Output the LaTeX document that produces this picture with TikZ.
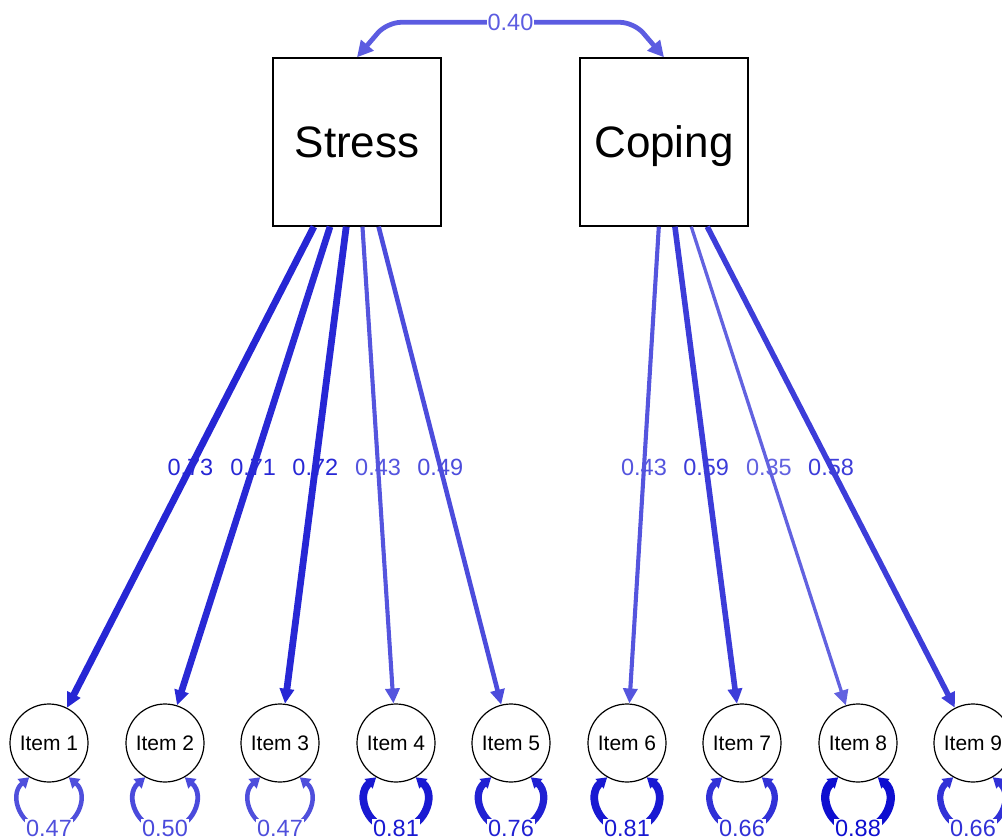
\documentclass[tikz,border=0pt]{standalone}
\usepackage{fontspec}
\setmainfont{Liberation Sans}
\usetikzlibrary{arrows.meta,calc}
% colours by weight
\definecolor{w73}{RGB}{38,38,212}
\definecolor{w71}{RGB}{41,41,213}
\definecolor{w72}{RGB}{39,39,213}
\definecolor{w43}{RGB}{85,85,222}
\definecolor{w49}{RGB}{76,76,220}
\definecolor{w59}{RGB}{60,60,217}
\definecolor{w35}{RGB}{98,98,224}
\definecolor{w58}{RGB}{61,61,217}
\definecolor{w40}{RGB}{92,92,225}
\definecolor{w47}{RGB}{79,79,220}
\definecolor{w50}{RGB}{74,74,220}
\definecolor{w81}{RGB}{25,25,210}
\definecolor{w76}{RGB}{33,33,211}
\definecolor{w88}{RGB}{14,14,208}
\definecolor{w66}{RGB}{49,49,215}
\tikzset{
  lat/.style={draw, line width=1.4pt, minimum width=168pt, minimum height=168pt,
    inner sep=0pt, text height=31.5pt, text depth=0pt, font=\fontsize{44}{44}\selectfont},
  man/.style={draw, circle, line width=1.2pt, minimum size=78pt, inner sep=0pt,
    font=\fontsize{21}{21}\selectfont},
  load/.style={-{Triangle[length=15pt,width=14pt]}},
  lab/.style={font=\fontsize{23.5}{23.5}\selectfont, inner sep=1pt},
  rlab/.style={font=\fontsize{23.5}{23.5}\selectfont, inner sep=1pt, fill=white},
  resid/.style={{Triangle[length=10pt,width=12pt]}-{Triangle[length=10pt,width=12pt]}},
  cov/.style={{Triangle[length=16pt,width=16pt]}-{Triangle[length=16pt,width=16pt]},
    rounded corners=14pt},
}
\begin{document}
\begin{tikzpicture}[x=1pt,y=-1pt]
\useasboundingbox (0,0) rectangle (1002,838);
\clip (0,0) rectangle (1002,838);
% latent variables
\node[lat] (S) at (357,142) {Stress};
\node[lat] (C) at (664,142) {Coping};
% manifest items
\node[man] (i1) at (49,743) {Item 1};
\node[man] (i2) at (165,743) {Item 2};
\node[man] (i3) at (280,743) {Item 3};
\node[man] (i4) at (396,743) {Item 4};
\node[man] (i5) at (511,743) {Item 5};
\node[man] (i6) at (627,743) {Item 6};
\node[man] (i7) at (742,743) {Item 7};
\node[man] (i8) at (858,743) {Item 8};
\node[man] (i9) at (973,743) {Item 9};
% covariance
\draw[cov, w40, line width=4.8pt] (S.north) -- ($(S.north)+(30,-35)$)
  -- ($(C.north)+(-30,-35)$) -- (C.north);
\node[lab, fill=white, text=w40] (cl) at ($(S.north)!0.5!(C.north)+(0,-35)$) {0.40};
% loadings
\foreach \f/\t/\c/\w/\v in {S/i1/w73/6.9/0.73, S/i2/w71/6.7/0.71, S/i3/w72/6.8/0.72,
  S/i4/w43/4.1/0.43, S/i5/w49/4.6/0.49, C/i6/w43/4.1/0.43, C/i7/w59/5.6/0.59,
  C/i8/w35/3.3/0.35, C/i9/w58/5.5/0.58}{
  \draw[load, \c, line width=\w pt] (\f) -- (\t);
  \node[lab, text=\c] (l\t) at ($(\f)!0.5408!(\t)$) {\v};
}
% residual variances
\foreach \t/\c/\w/\v in {i1/w47/4.5/0.47, i2/w50/4.8/0.50, i3/w47/4.5/0.47,
  i4/w81/7.7/0.81, i5/w76/7.2/0.76, i6/w81/7.7/0.81, i7/w66/6.3/0.66,
  i8/w88/8.3/0.88, i9/w66/6.3/0.66}{
  \coordinate (b\t) at ($(\t)+(0,87)$);
  \draw[resid, \c, line width=\w pt] (\t.-120) .. controls +(-21.4,18.2) and +(-28.1,0) .. (b\t)
    .. controls +(28.1,0) and +(21.4,18.2) .. (\t.-60);
  \node[rlab, text=\c] (r\t) at ($(\t)+(0,85.5)$) {\v};
}
\end{tikzpicture}
\end{document}
